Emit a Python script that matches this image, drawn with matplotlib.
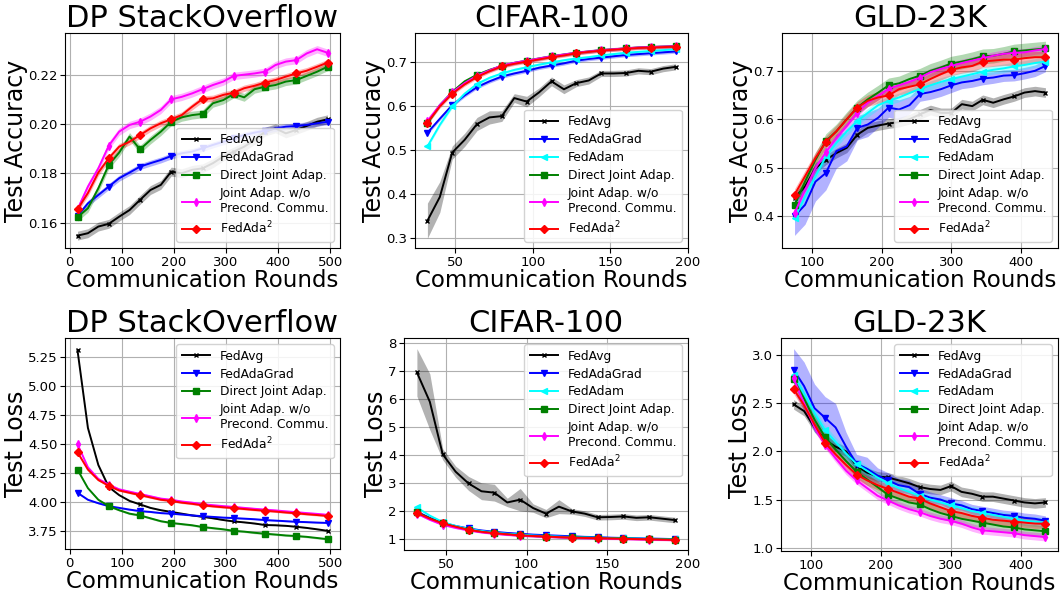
import numpy as np
import matplotlib
matplotlib.use("Agg")
import matplotlib.pyplot as plt

# ---- DP StackOverflow ----
so_rounds = [15, 35, 55, 75, 95, 115, 135, 155, 175, 195, 215, 235, 255,
             275, 295, 315, 335, 355, 375, 395, 415, 435, 455, 475, 495]

so_acc_fedavg = [0.1547, 0.1557, 0.1584, 0.1595, 0.1624, 0.1651, 0.1692, 0.1732, 0.1753, 0.1807,
                 0.1800, 0.1814, 0.1820, 0.1841, 0.1868, 0.1888, 0.1908, 0.1935, 0.1969, 0.1982,
                 0.1962, 0.1976, 0.1992, 0.2009, 0.2019]
so_acc_adagrad = [0.1627, 0.1678, 0.1712, 0.1746, 0.1780, 0.1803, 0.1827, 0.1841, 0.1854, 0.1870,
                  0.1881, 0.1888, 0.1901, 0.1915, 0.1928, 0.1942, 0.1955, 0.1965, 0.1973, 0.1982,
                  0.1989, 0.1992, 0.1996, 0.2003, 0.2009]
so_acc_direct = [0.1622, 0.1658, 0.1739, 0.1834, 0.1884, 0.1949, 0.1897, 0.1935, 0.1969, 0.2009,
                 0.2027, 0.2036, 0.2041, 0.2084, 0.2097, 0.2122, 0.2108, 0.2141, 0.2151, 0.2158,
                 0.2172, 0.2178, 0.2195, 0.2212, 0.2232]
so_acc_joint = [0.1654, 0.1746, 0.1820, 0.1912, 0.1969, 0.1996, 0.2009, 0.2030, 0.2057, 0.2100,
                0.2110, 0.2124, 0.2141, 0.2158, 0.2172, 0.2195, 0.2200, 0.2205, 0.2212, 0.2239,
                0.2253, 0.2259, 0.2286, 0.2303, 0.2289]
so_acc_ada2 = [0.1654, 0.1720, 0.1803, 0.1861, 0.1908, 0.1928, 0.1955, 0.1982, 0.2003, 0.2019,
               0.2036, 0.2070, 0.2101, 0.2104, 0.2118, 0.2127, 0.2145, 0.2155, 0.2168, 0.2178,
               0.2192, 0.2205, 0.2216, 0.2232, 0.2249]

so_loss_fedavg = [5.31, 4.64, 4.32, 4.13, 4.06, 4.01, 3.98, 3.95, 3.93, 3.915,
                  3.90, 3.885, 3.873, 3.86, 3.845, 3.833, 3.825, 3.815, 3.802, 3.80,
                  3.795, 3.787, 3.777, 3.765, 3.752]
so_loss_adagrad = [4.08, 4.02, 3.99, 3.965, 3.95, 3.935, 3.922, 3.915, 3.905, 3.90,
                   3.893, 3.885, 3.878, 3.872, 3.866, 3.862, 3.857, 3.852, 3.845, 3.84,
                   3.835, 3.83, 3.827, 3.823, 3.82]
so_loss_direct = [4.28, 4.12, 4.02, 3.965, 3.93, 3.90, 3.885, 3.86, 3.835, 3.82,
                  3.81, 3.80, 3.785, 3.775, 3.765, 3.752, 3.745, 3.735, 3.727, 3.72,
                  3.712, 3.707, 3.70, 3.69, 3.68]
so_loss_joint = [4.50, 4.30, 4.20, 4.15, 4.11, 4.09, 4.07, 4.05, 4.03, 4.02,
                 4.005, 3.995, 3.982, 3.973, 3.965, 3.958, 3.95, 3.942, 3.935, 3.928,
                 3.92, 3.913, 3.905, 3.898, 3.89]
so_loss_ada2 = [4.43, 4.28, 4.19, 4.14, 4.10, 4.08, 4.06, 4.04, 4.02, 4.01,
                3.995, 3.985, 3.972, 3.963, 3.955, 3.948, 3.94, 3.932, 3.925, 3.918,
                3.91, 3.903, 3.895, 3.888, 3.88]

# ---- CIFAR-100 ----
cifar_rounds = [32, 40, 48, 56, 64, 72, 80, 88, 96, 104, 112, 120, 128,
                136, 144, 152, 160, 168, 176, 184, 192]

cifar_acc_fedavg = [0.340, 0.394, 0.495, 0.524, 0.560, 0.575, 0.578, 0.619, 0.611, 0.632, 0.657,
                    0.639, 0.653, 0.659, 0.675, 0.675, 0.676, 0.681, 0.679, 0.686, 0.690]
cifar_acc_fedavg_band = [0.040, 0.035, 0.015, 0.015, 0.015, 0.015, 0.012, 0.010, 0.012, 0.010, 0.010,
                         0.010, 0.008, 0.008, 0.007, 0.007, 0.007, 0.007, 0.007, 0.007, 0.007]
cifar_acc_adagrad = [0.540, 0.572, 0.603, 0.625, 0.644, 0.657, 0.668, 0.675, 0.681, 0.688, 0.693,
                     0.698, 0.704, 0.708, 0.711, 0.714, 0.717, 0.719, 0.721, 0.723, 0.725]
cifar_acc_adam = [0.509, 0.558, 0.600, 0.629, 0.651, 0.665, 0.675, 0.683, 0.689, 0.695, 0.700,
                  0.705, 0.709, 0.712, 0.716, 0.719, 0.722, 0.724, 0.726, 0.728, 0.730]
cifar_acc_direct = [0.562, 0.603, 0.633, 0.657, 0.672, 0.683, 0.692, 0.699, 0.704, 0.709, 0.714,
                    0.718, 0.722, 0.725, 0.728, 0.730, 0.732, 0.734, 0.735, 0.736, 0.737]
cifar_acc_joint = [0.567, 0.603, 0.632, 0.653, 0.670, 0.682, 0.693, 0.699, 0.704, 0.709, 0.714,
                   0.718, 0.722, 0.725, 0.728, 0.730, 0.732, 0.734, 0.735, 0.736, 0.737]
cifar_acc_ada2 = [0.563, 0.600, 0.629, 0.650, 0.667, 0.680, 0.691, 0.697, 0.702, 0.707, 0.712,
                  0.716, 0.721, 0.724, 0.727, 0.729, 0.731, 0.733, 0.734, 0.735, 0.736]

cifar_loss_fedavg = [6.95, 5.90, 4.02, 3.40, 2.98, 2.70, 2.65, 2.30, 2.40, 2.10, 1.90,
                     2.15, 1.98, 1.90, 1.77, 1.78, 1.80, 1.75, 1.77, 1.72, 1.67]
cifar_loss_fedavg_band = [0.85, 1.00, 0.20, 0.20, 0.25, 0.30, 0.30, 0.15, 0.40, 0.15, 0.15,
                          0.25, 0.10, 0.10, 0.10, 0.10, 0.10, 0.10, 0.10, 0.10, 0.10]
cifar_loss_adagrad = [1.97, 1.75, 1.57, 1.46, 1.37, 1.30, 1.25, 1.21, 1.18, 1.15, 1.13,
                      1.11, 1.09, 1.07, 1.06, 1.04, 1.03, 1.02, 1.01, 1.00, 0.99]
cifar_loss_adam = [2.12, 1.83, 1.60, 1.46, 1.35, 1.28, 1.22, 1.18, 1.15, 1.12, 1.10,
                   1.08, 1.06, 1.05, 1.04, 1.03, 1.02, 1.01, 1.00, 0.99, 0.98]
cifar_loss_direct = [1.95, 1.73, 1.55, 1.43, 1.32, 1.25, 1.20, 1.16, 1.12, 1.10, 1.08,
                     1.06, 1.05, 1.04, 1.03, 1.02, 1.01, 1.00, 0.99, 0.98, 0.97]
cifar_loss_joint = [1.90, 1.68, 1.50, 1.39, 1.30, 1.23, 1.18, 1.14, 1.11, 1.09, 1.07,
                    1.05, 1.03, 1.02, 1.01, 1.00, 0.99, 0.98, 0.97, 0.96, 0.95]
cifar_loss_ada2 = [1.93, 1.72, 1.55, 1.43, 1.32, 1.25, 1.20, 1.16, 1.12, 1.10, 1.08,
                   1.06, 1.04, 1.03, 1.02, 1.01, 1.00, 0.99, 0.98, 0.97, 0.96]

# ---- GLD-23K ----
gld_rounds = [75, 90, 105, 120, 135, 150, 165, 180, 195, 210, 225, 240, 255,
              270, 285, 300, 315, 330, 345, 360, 375, 390, 405, 420, 435]

gld_acc_fedavg = [0.437, 0.461, 0.499, 0.516, 0.530, 0.541, 0.568, 0.582, 0.587, 0.591, 0.594, 0.600, 0.610,
                  0.619, 0.613, 0.613, 0.631, 0.627, 0.640, 0.634, 0.641, 0.647, 0.655, 0.658, 0.655]
gld_acc_adagrad = [0.400, 0.423, 0.471, 0.489, 0.534, 0.544, 0.582, 0.589, 0.603, 0.624, 0.620, 0.629, 0.652,
                   0.656, 0.662, 0.670, 0.676, 0.679, 0.684, 0.686, 0.690, 0.691, 0.695, 0.700, 0.710]
gld_acc_adagrad_band = [0.040, 0.040, 0.040, 0.035, 0.035, 0.030, 0.025, 0.025, 0.020, 0.020, 0.020, 0.018, 0.015,
                        0.015, 0.015, 0.015, 0.013, 0.013, 0.013, 0.012, 0.012, 0.012, 0.012, 0.012, 0.012]
gld_acc_adam = [0.395, 0.440, 0.482, 0.523, 0.551, 0.575, 0.596, 0.613, 0.629, 0.638, 0.645, 0.654, 0.663,
                0.670, 0.677, 0.683, 0.688, 0.693, 0.698, 0.702, 0.705, 0.709, 0.712, 0.716, 0.719]
gld_acc_direct = [0.423, 0.471, 0.516, 0.555, 0.575, 0.600, 0.624, 0.641, 0.655, 0.670, 0.674, 0.683, 0.690,
                  0.700, 0.707, 0.715, 0.719, 0.724, 0.730, 0.731, 0.735, 0.740, 0.742, 0.744, 0.746]
gld_acc_joint = [0.406, 0.454, 0.499, 0.532, 0.561, 0.586, 0.613, 0.634, 0.648, 0.663, 0.670, 0.677, 0.686,
                 0.697, 0.704, 0.710, 0.716, 0.721, 0.726, 0.731, 0.735, 0.737, 0.738, 0.742, 0.745]
gld_acc_ada2 = [0.444, 0.482, 0.520, 0.553, 0.575, 0.600, 0.624, 0.638, 0.645, 0.649, 0.662, 0.667, 0.672,
                0.683, 0.693, 0.702, 0.707, 0.710, 0.719, 0.721, 0.723, 0.723, 0.726, 0.728, 0.728]

gld_loss_fedavg = [2.49, 2.42, 2.25, 2.12, 2.05, 2.00, 1.85, 1.78, 1.74, 1.73, 1.70, 1.67, 1.63,
                   1.61, 1.60, 1.64, 1.58, 1.56, 1.53, 1.53, 1.51, 1.49, 1.47, 1.46, 1.47]
gld_loss_adagrad = [2.85, 2.68, 2.45, 2.35, 2.25, 2.05, 1.87, 1.82, 1.75, 1.70, 1.65, 1.63, 1.56,
                    1.52, 1.50, 1.46, 1.44, 1.40, 1.38, 1.36, 1.34, 1.33, 1.31, 1.30, 1.28]
gld_loss_adagrad_band = [0.22, 0.25, 0.25, 0.22, 0.25, 0.15, 0.10, 0.12, 0.08, 0.08, 0.07, 0.07, 0.06,
                         0.06, 0.05, 0.06, 0.05, 0.05, 0.05, 0.05, 0.05, 0.05, 0.05, 0.05, 0.05]
gld_loss_adam = [2.80, 2.60, 2.40, 2.22, 2.10, 1.98, 1.87, 1.80, 1.73, 1.67, 1.62, 1.58, 1.54,
                 1.50, 1.47, 1.44, 1.41, 1.38, 1.36, 1.34, 1.32, 1.30, 1.28, 1.27, 1.26]
gld_loss_direct = [2.75, 2.55, 2.33, 2.15, 2.02, 1.90, 1.79, 1.71, 1.63, 1.55, 1.51, 1.47, 1.45,
                   1.40, 1.36, 1.33, 1.30, 1.28, 1.26, 1.24, 1.22, 1.21, 1.19, 1.18, 1.17]
gld_loss_joint = [2.76, 2.50, 2.25, 2.07, 1.93, 1.80, 1.70, 1.62, 1.54, 1.49, 1.44, 1.40, 1.37,
                  1.33, 1.30, 1.28, 1.25, 1.21, 1.18, 1.17, 1.16, 1.15, 1.13, 1.12, 1.11]
gld_loss_ada2 = [2.65, 2.48, 2.28, 2.09, 1.97, 1.86, 1.76, 1.70, 1.65, 1.61, 1.57, 1.53, 1.51,
                 1.46, 1.42, 1.38, 1.36, 1.33, 1.31, 1.29, 1.28, 1.27, 1.26, 1.25, 1.25]

labels = {
    "fedavg": "FedAvg",
    "adagrad": "FedAdaGrad",
    "adam": "FedAdam",
    "direct": "Direct Joint Adap.",
    "joint": "Joint Adap. w/o\nPrecond. Commu.",
    "ada2": "FedAda$^2$",
}
colors = {"fedavg": "black", "adagrad": "blue", "adam": "cyan",
          "direct": "green", "joint": "magenta", "ada2": "red"}
markers = {"fedavg": "x", "adagrad": "v", "adam": "<",
           "direct": "s", "joint": "d", "ada2": "D"}


def draw(ax, x, curves, markevery, title, ylabel, ylim, yticks, xticks, legend_loc, fmt=None):
    for key, y, band in curves:
        y = np.asarray(y)
        band = np.asarray(band)
        ax.fill_between(x, y - band, y + band, color=colors[key], alpha=0.3, linewidth=0)
        ax.plot(x, y, color=colors[key], marker=markers[key], markevery=markevery,
                markersize=4 if key != "fedavg" else 3.5, linewidth=1.4, label=labels[key])
    ax.set_title(title, fontsize=22, pad=4)
    ax.set_ylabel(ylabel, fontsize=17, labelpad=0)
    ax.set_xlabel("Communication Rounds", fontsize=16.5, labelpad=0)
    ax.set_ylim(*ylim)
    ax.set_yticks(yticks)
    ax.set_xticks(xticks)
    if fmt:
        ax.set_yticklabels([fmt.format(t) for t in yticks])
    ax.tick_params(labelsize=9.5, pad=2)
    ax.grid(True, color="#b0b0b0", linewidth=0.8)
    ax.set_axisbelow(True)
    ax.legend(loc=legend_loc, fontsize=8.8, handlelength=2.3, labelspacing=0.4,
              borderpad=0.45, framealpha=0.85)


fig = plt.figure(figsize=(10.6, 5.93), dpi=100)
W, H = 1060.0, 593.0


def rect(l, r, t, b):
    return [l / W, (H - b) / H, (r - l) / W, (b - t) / H]


ax1 = fig.add_axes(rect(65, 340, 33, 248))
draw(ax1, so_rounds,
     [("fedavg", so_acc_fedavg, 0.0018), ("adagrad", so_acc_adagrad, 0.0012),
      ("direct", so_acc_direct, 0.0016), ("joint", so_acc_joint, 0.0015),
      ("ada2", so_acc_ada2, 0.0013)],
     3, "DP StackOverflow", "Test Accuracy", (0.1497, 0.2369),
     [0.16, 0.18, 0.20, 0.22], [0, 100, 200, 300, 400, 500], "lower right", "{:.2f}")

ax2 = fig.add_axes(rect(415, 688, 33, 248))
draw(ax2, cifar_rounds,
     [("fedavg", cifar_acc_fedavg, cifar_acc_fedavg_band), ("adagrad", cifar_acc_adagrad, 0.004),
      ("adam", cifar_acc_adam, 0.004), ("direct", cifar_acc_direct, 0.004),
      ("joint", cifar_acc_joint, 0.004), ("ada2", cifar_acc_ada2, 0.004)],
     2, "CIFAR-100", "Test Accuracy", (0.278, 0.767),
     [0.3, 0.4, 0.5, 0.6, 0.7], [50, 100, 150, 200], "lower right", "{:.1f}")
ax2.set_xlim(24, 200)

ax3 = fig.add_axes(rect(782, 1058, 33, 248))
draw(ax3, gld_rounds,
     [("fedavg", gld_acc_fedavg, 0.010), ("adagrad", gld_acc_adagrad, gld_acc_adagrad_band),
      ("adam", gld_acc_adam, 0.009), ("direct", gld_acc_direct, 0.015),
      ("joint", gld_acc_joint, 0.008), ("ada2", gld_acc_ada2, 0.012)],
     3, "GLD-23K", "Test Accuracy", (0.334, 0.778),
     [0.4, 0.5, 0.6, 0.7], [100, 200, 300, 400], "lower right", "{:.1f}")

ax4 = fig.add_axes(rect(65, 340, 338, 549))
draw(ax4, so_rounds,
     [("fedavg", so_loss_fedavg, 0.004), ("adagrad", so_loss_adagrad, 0.006),
      ("direct", so_loss_direct, 0.008), ("joint", so_loss_joint, 0.01),
      ("ada2", so_loss_ada2, 0.008)],
     3, "DP StackOverflow", "Test Loss", (3.595, 5.416),
     [3.75, 4.00, 4.25, 4.50, 4.75, 5.00, 5.25], [0, 100, 200, 300, 400, 500], "upper right", "{:.2f}")

ax5 = fig.add_axes(rect(404, 688, 338, 550))
draw(ax5, cifar_rounds,
     [("fedavg", cifar_loss_fedavg, cifar_loss_fedavg_band), ("adagrad", cifar_loss_adagrad, 0.03),
      ("adam", cifar_loss_adam, 0.03), ("direct", cifar_loss_direct, 0.03),
      ("joint", cifar_loss_joint, 0.03), ("ada2", cifar_loss_ada2, 0.03)],
     2, "CIFAR-100", "Test Loss", (0.6, 8.18),
     [1, 2, 3, 4, 5, 6, 7, 8], [50, 100, 150, 200], "upper right")
ax5.set_xlim(24, 200)

ax6 = fig.add_axes(rect(781, 1058, 338, 551))
draw(ax6, gld_rounds,
     [("fedavg", gld_loss_fedavg, 0.05), ("adagrad", gld_loss_adagrad, gld_loss_adagrad_band),
      ("adam", gld_loss_adam, 0.05), ("direct", gld_loss_direct, 0.06),
      ("joint", gld_loss_joint, 0.04), ("ada2", gld_loss_ada2, 0.05)],
     3, "GLD-23K", "Test Loss", (0.965, 3.18),
     [1.0, 1.5, 2.0, 2.5, 3.0], [100, 200, 300, 400], "upper right", "{:.1f}")

fig.savefig("out.png", dpi=100)
